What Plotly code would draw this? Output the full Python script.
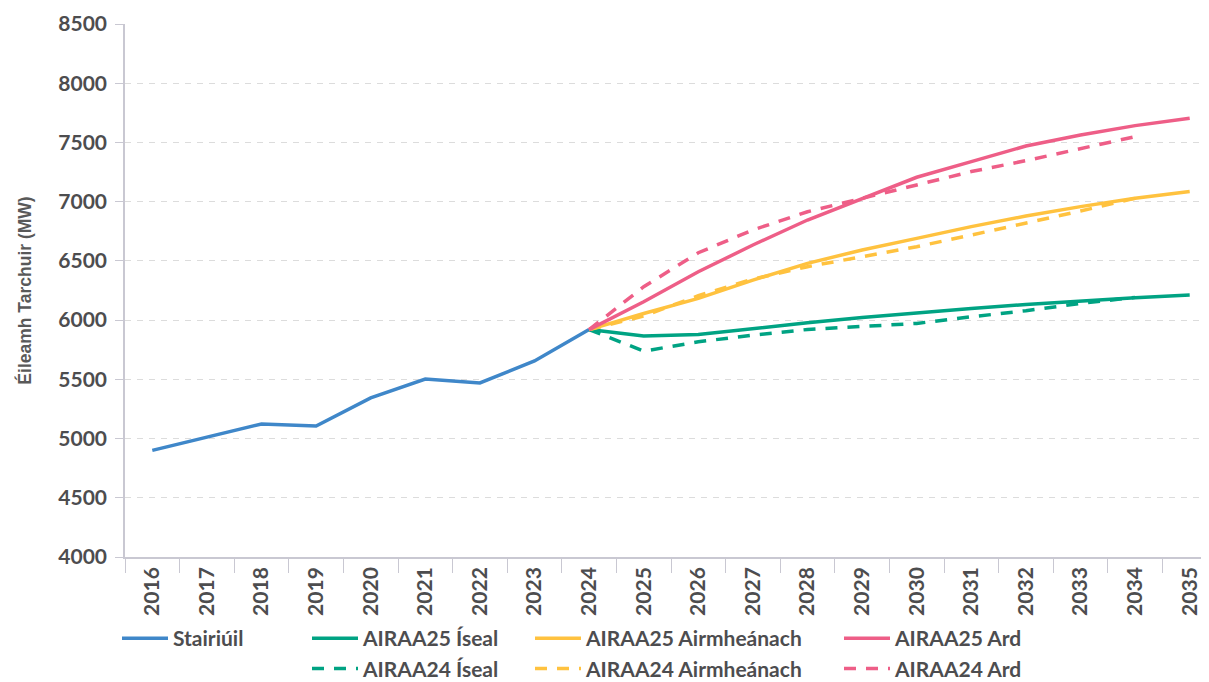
import plotly.graph_objects as go

years = [str(y) for y in range(2016, 2036)]
hist_years = years[:9]
proj_years = years[8:]

stairiuil = [4900, 5015, 5123, 5106, 5343, 5503, 5470, 5655, 5920]

airaa25_iseal = [5920, 5865, 5879, 5930, 5977, 6022, 6062, 6099, 6132, 6163, 6189, 6211]
airaa25_airm = [5920, 6056, 6183, 6338, 6479, 6592, 6690, 6789, 6879, 6958, 7028, 7085]
airaa25_ard = [5920, 6155, 6408, 6634, 6845, 7028, 7206, 7338, 7470, 7563, 7642, 7704]

airaa24_years = years[8:19]
airaa24_iseal = [5920, 5738, 5817, 5873, 5921, 5944, 5972, 6028, 6079, 6141, 6192]
airaa24_airm = [5920, 6034, 6206, 6346, 6451, 6535, 6620, 6718, 6817, 6921, 7028]
airaa24_ard = [5920, 6282, 6569, 6761, 6915, 7028, 7146, 7254, 7346, 7445, 7549]

BLUE = "#3f87c9"
GREEN = "#00a383"
YELLOW = "#ffc23f"
RED = "#ee5e87"
TXT = "#4d4d4f"
AXC = "#c9c8d2"

W = 3.5
DASH = "12px,10px"

fig = go.Figure()

def add(x, y, name, color, dash, legend, group):
    fig.add_trace(go.Scatter(
        x=x, y=y, name=name, mode="lines",
        line=dict(color=color, width=W, dash=dash),
        legend=legend, legendgroup=group, hoverinfo="x+y+name",
    ))

add(hist_years, stairiuil, "Stairiúil", BLUE, "solid", "legend", "a")
add(proj_years, airaa25_iseal, "AIRAA25 Íseal", GREEN, "solid", "legend2", "g1")
add(airaa24_years, airaa24_iseal, "AIRAA24 Íseal", GREEN, DASH, "legend2", "g2")
add(proj_years, airaa25_airm, "AIRAA25 Airmheánach", YELLOW, "solid", "legend3", "y1")
add(airaa24_years, airaa24_airm, "AIRAA24 Airmheánach", YELLOW, DASH, "legend3", "y2")
add(proj_years, airaa25_ard, "AIRAA25 Ard", RED, "solid", "legend4", "r1")
add(airaa24_years, airaa24_ard, "AIRAA24 Ard", RED, DASH, "legend4", "r2")

# page body has an 8px margin; positions below are in figure pixels
OFF = 8
FW, FH = 1209, 682
L = 125 - OFF
T = 24 - OFF
B = FH - (557 - OFF)
R = 0
PW = FW - L - R

def lx(px_screen):
    return (px_screen - OFF - L) / PW

ITEMW = 46
legend_font = dict(family="Lato", size=21, color=TXT, weight="bold")
leg_common = dict(
    orientation="v", xref="paper", yref="container", yanchor="top", xanchor="left",
    font=legend_font, bgcolor="rgba(0,0,0,0)", borderwidth=0,
    traceorder="grouped", tracegroupgap=0, itemwidth=ITEMW,
)
ytop = 1 - (618 - OFF) / FH
TXT_OFF = ITEMW + 10

fig.update_layout(
    width=FW, height=FH,
    showlegend=True,
    margin=dict(l=L, r=R, t=T, b=B),
    paper_bgcolor="white", plot_bgcolor="white",
    font=dict(family="Lato", color=TXT),
    legend=dict(x=lx(173 - TXT_OFF), y=ytop, **leg_common),
    legend2=dict(x=lx(363 - TXT_OFF), y=ytop, **leg_common),
    legend3=dict(x=lx(586 - TXT_OFF), y=ytop, **leg_common),
    legend4=dict(x=lx(895 - TXT_OFF), y=ytop, **leg_common),
    xaxis=dict(
        type="category", categoryorder="array", categoryarray=years,
        range=[-0.5, 19.5],
        showline=True, linecolor=AXC, linewidth=1.5,
        ticks="outside", tickson="boundaries", ticklen=14, tickcolor=AXC, tickwidth=1,
        tickangle=-90, showgrid=False,
        tickfont=dict(family="Lato", size=21, color=TXT, weight="bold"),
        fixedrange=True,
    ),
    yaxis=dict(
        range=[4000, 8500], tickvals=list(range(4000, 8501, 500)),
        showline=True, linecolor=AXC, linewidth=1.5,
        ticks="outside", ticklen=8, tickcolor=AXC,
        showgrid=True, gridcolor="#dcdcdc", griddash="6px,6px", gridwidth=1,
        zeroline=False,
        tickfont=dict(family="Lato", size=21, color=TXT, weight="bold"),
        ticklabelstandoff=4,
        title=dict(text="Éileamh Tarchuir (MW)",
                   font=dict(family="Liberation Sans", size=17.5, color="#595959", weight="bold"),
                   standoff=22),
    ),
)

fig.write_html("out.html")
